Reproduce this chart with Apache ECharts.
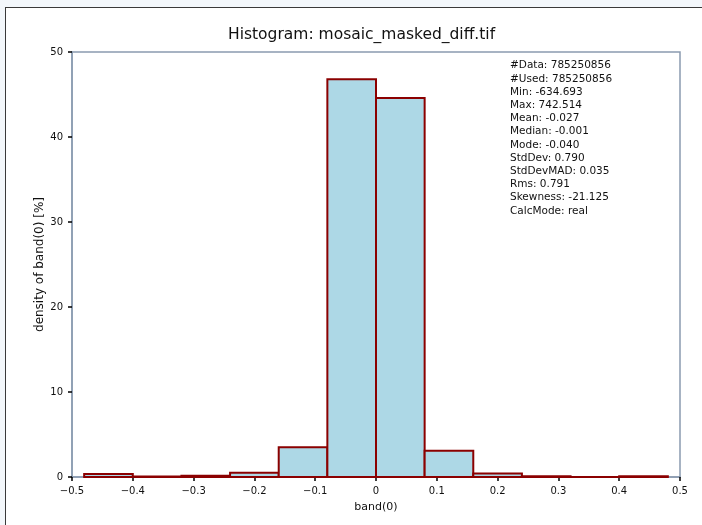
<!DOCTYPE html>
<html>
<head>
<meta charset="utf-8">
<script src="https://cdn.jsdelivr.net/npm/echarts@6/dist/echarts.min.js"></script>
<style>
  html, body { margin: 0; padding: 0; width: 702px; height: 525px; overflow: hidden; background: #f3f7fb; }
  #panel { position: absolute; left: 5px; top: 7px; right: 0; bottom: 0; background: #fff; border-left: 1px solid #3a3a3a; border-top: 1px solid #3a3a3a; }
  #main { position: absolute; left: 0; top: 0; width: 702px; height: 525px; }
</style>
</head>
<body>
<div id="panel"></div>
<div id="main"></div>
<script>
// bin edges (band value) and density per bin [%]
var binStart = [-0.48, -0.40, -0.32, -0.24, -0.16, -0.08, 0.00, 0.08, 0.16, 0.24, 0.32, 0.40];
var binEnd   = [-0.40, -0.32, -0.24, -0.16, -0.08, 0.00, 0.08, 0.16, 0.24, 0.32, 0.40, 0.48];
var density  = [0.35, 0.05, 0.15, 0.5, 3.5, 46.8, 44.6, 3.1, 0.4, 0.08, 0, 0.08];

var statLines = [
    '#Data: 785250856',
    '#Used: 785250856',
    'Min: -634.693',
    'Max: 742.514',
    'Mean: -0.027',
    'Median: -0.001',
    'Mode: -0.040',
    'StdDev: 0.790',
    'StdDevMAD: 0.035',
    'Rms: 0.791',
    'Skewness: -21.125',
    'CalcMode: real'
];

var bars = [];
for (var i = 0; i < binStart.length; i++) {
    bars.push([binStart[i], binEnd[i], density[i]]);
}

var font = '"DejaVu Sans", "Noto Sans", sans-serif';
var chart = echarts.init(document.getElementById('main'));
option = {
    animation: false,
    backgroundColor: 'transparent',
    title: {
        text: 'Histogram: mosaic_masked_diff.tif',
        left: 223,
        top: 22,
        textStyle: { fontSize: 15.5, fontWeight: 'normal', color: '#111', fontFamily: font }
    },
    grid: {
        left: 72, right: 22, top: 52, bottom: 48,
        show: true, borderColor: '#8a9bb0', borderWidth: 1.5, backgroundColor: 'transparent'
    },
    xAxis: {
        type: 'value', min: -0.5, max: 0.5, interval: 0.1,
        name: 'band(0)', nameLocation: 'middle', nameGap: 25,
        nameTextStyle: { fontSize: 11, color: '#111', fontFamily: font },
        axisLine: { onZero: false, lineStyle: { color: '#8a9bb0', width: 1.5 } },
        axisTick: { length: 4, lineStyle: { color: '#000', width: 1.5 } },
        splitLine: { show: false },
        axisLabel: {
            fontSize: 10, color: '#111', margin: 9, fontFamily: font,
            formatter: function (v) {
                var s = (Math.round(v * 10) / 10).toString();
                return s.replace('-', '\u2212');
            }
        }
    },
    yAxis: {
        type: 'value', min: 0, max: 50, interval: 10,
        name: 'density of band(0) [%]', nameLocation: 'middle', nameGap: 26,
        nameMoveOverlap: false,
        nameTextStyle: { fontSize: 12, color: '#111', fontFamily: font },
        axisLine: { show: true, onZero: false, lineStyle: { color: '#8a9bb0', width: 1.5 } },
        axisTick: { show: true, length: 4, lineStyle: { color: '#000', width: 1.5 } },
        splitLine: { show: false },
        axisLabel: { fontSize: 10, color: '#111', margin: 9, fontFamily: font }
    },
    graphic: [{
        type: 'text',
        left: 510, top: 59,
        style: {
            text: statLines.join('\n'),
            fontSize: 10.5, lineHeight: 13.2, fill: '#111', fontFamily: font
        }
    }],
    series: [{
        type: 'custom',
        data: bars,
        renderItem: function (params, api) {
            var p0 = api.coord([api.value(0), api.value(2)]);
            var p1 = api.coord([api.value(1), 0]);
            return {
                type: 'rect',
                shape: { x: p0[0], y: p0[1], width: p1[0] - p0[0], height: p1[1] - p0[1] },
                style: { fill: '#add8e6', stroke: '#8b0000', lineWidth: 2 }
            };
        }
    }]
};
chart.setOption(option);
</script>
</body>
</html>
